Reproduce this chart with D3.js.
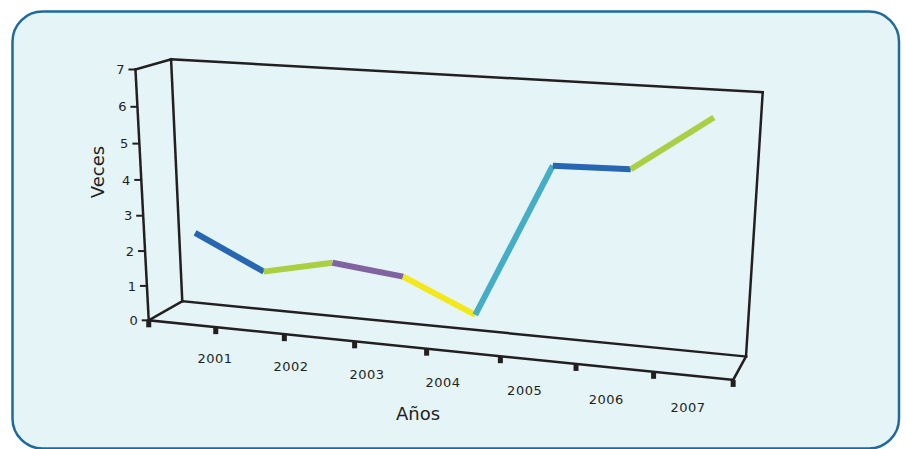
<!DOCTYPE html>
<html><head><meta charset="utf-8">
<script src="https://cdn.jsdelivr.net/npm/d3@7"></script>
<style>html,body{margin:0;padding:0;background:#fff;} svg{display:block;}</style>
</head><body><svg id="c" width="906" height="449"></svg>
<script>
// ---------- data ----------
const years = ["2001","2002","2003","2004","2005","2006","2007"];
const pointSlots = [0,1,2,3,4,5,6,7];
const values = [2.36, 1.42, 1.85, 1.64, 0.75, 4.97, 5.02, 6.47];
const segmentColors = ["#2766b0","#aacf44","#8063a1","#f3e81b","#45adc5","#2766b0","#aacf44"];
const yTicks = [0,1,2,3,4,5,6,7];
const yTitle = "Veces";
const xTitle = "Años";

// ---------- projection calibration (world X:0..8, Y:0..7, Z:0 front..1 back) ----------
const anchors = [
  [[0,0,0],[148.3,320.7]], [[0,7,0],[135,69.3]], [[8,0,0],[733.3,379.3]],
  [[0,0,1],[181.7,300]], [[0,7,1],[171.7,60]], [[8,7,1],[762.7,91.7]], [[8,0,1],[746,357.7]],
  [[2,0,0],[286,334.5]], [[4,0,0],[427,349]], [[6,0,0],[575,363.5]], [[0,4,0],[141,180]]
];
function fitProjection(anc){
  const n=11, M=[...Array(n)].map(()=>Array(n+1).fill(0));
  const rows=[];
  for (const [[X,Y,Z],[u,v]] of anc){
    rows.push([[X,Y,Z,1,0,0,0,0,-u*X,-u*Y,-u*Z],u]);
    rows.push([[0,0,0,0,X,Y,Z,1,-v*X,-v*Y,-v*Z],v]);
  }
  for (const [a,b] of rows){
    for (let i=0;i<n;i++){ for (let j=0;j<n;j++) M[i][j]+=a[i]*a[j]; M[i][n]+=a[i]*b; }
  }
  for (let c=0;c<n;c++){
    let p=c; for (let r=c+1;r<n;r++) if (Math.abs(M[r][c])>Math.abs(M[p][c])) p=r;
    [M[c],M[p]]=[M[p],M[c]];
    for (let r=0;r<n;r++){ if(r===c) continue; const f=M[r][c]/M[c][c]; for(let k=c;k<=n;k++) M[r][k]-=f*M[c][k]; }
  }
  return M.map((r,i)=>r[n]/r[i]);
}
const P = fitProjection(anchors);
function project(X,Y,Z){
  const w = P[8]*X+P[9]*Y+P[10]*Z+1;
  return [(P[0]*X+P[1]*Y+P[2]*Z+P[3])/w, (P[4]*X+P[5]*Y+P[6]*Z+P[7])/w];
}

const svg = d3.select("#c");
const font = "'DejaVu Sans', sans-serif";
const ink = "#231f20";

svg.append("rect").attr("x",12.5).attr("y",11.5).attr("width",886.5).attr("height",437)
  .attr("rx",30).attr("ry",30).attr("fill","#e5f4f7").attr("stroke","#1e6a9b").attr("stroke-width",2.5);

const line = d3.line();
const edges = [
  [[0,0,0],[0,7,0]], [[0,7,0],[0,7,1]], [[0,7,1],[0,0,1]], [[0,7,1],[8,7,1]],
  [[8,7,1],[8,0,1]], [[0,0,1],[8,0,1]], [[0,0,0],[0,0,1]], [[0,0,0],[8,0,0]], [[8,0,0],[8,0,1]]
];
svg.append("g").selectAll("path").data(edges).join("path")
  .attr("d", d => line(d.map(p=>project(...p))))
  .attr("fill","none").attr("stroke",ink).attr("stroke-width",2.5).attr("stroke-linecap","square");

// y ticks
const yg = svg.append("g");
yTicks.forEach(k=>{
  const [x,y] = project(0,k,0);
  yg.append("line").attr("x1",x-7).attr("x2",x).attr("y1",y).attr("y2",y).attr("stroke",ink).attr("stroke-width",2);
  yg.append("text").attr("x",x-11).attr("y",y).attr("dy","0.36em").attr("text-anchor","end")
    .attr("font-family",font).attr("font-size",13).attr("fill",ink).text(k);
});
// x ticks
const xTickIdx = d3.range(0, years.length+2);
svg.append("g").selectAll("rect").data(xTickIdx).join("rect")
  .attr("x", k => project(k,0,0)[0]-2.5).attr("y", k => project(k,0,0)[1])
  .attr("width",5).attr("height",7).attr("fill",ink);
// x labels
const labX = d3.scaleLinear().domain([1,4,7]).range([215,443,688]);
const labY = d3.scaleLinear().domain([1,7]).range([363,411.7]);
svg.append("g").selectAll("text").data(years).join("text")
  .attr("x",(d,i)=>labX(i+1)).attr("y",(d,i)=>labY(i+1)).attr("text-anchor","middle")
  .attr("font-family",font).attr("font-size",13).attr("letter-spacing","0.5px").attr("fill",ink).text(d=>d);

svg.append("text").attr("transform","translate(104,172) rotate(-90)").attr("text-anchor","middle")
  .attr("font-family",font).attr("font-size",18).attr("fill",ink).text(yTitle);
svg.append("text").attr("x",418).attr("y",420).attr("text-anchor","middle")
  .attr("font-family",font).attr("font-size",18).attr("fill",ink).text(xTitle);

// data line (drawn in the middle depth plane, centred in each slot)
const zLine = 0.5;
const pts = pointSlots.map((s,i)=>project(s+0.5, values[i], zLine));
svg.append("g").selectAll("path").data(segmentColors).join("path")
  .attr("d",(c,i)=>line([pts[i],pts[i+1]]))
  .attr("stroke",c=>c).attr("stroke-width",6).attr("fill","none").attr("stroke-linecap","butt");
</script></body></html>
